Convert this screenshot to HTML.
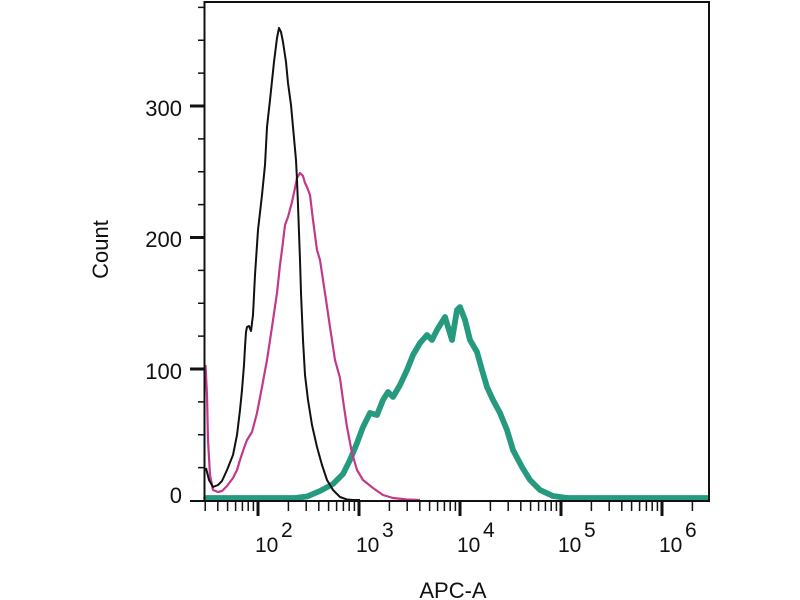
<!DOCTYPE html>
<html><head><meta charset="utf-8"><style>
html,body{margin:0;padding:0;background:#fff;}
svg{display:block;}
text{font-family:"Liberation Sans",Arial,sans-serif;fill:#111;}
</style></head><body>
<svg width="800" height="600" viewBox="0 0 800 600" xmlns="http://www.w3.org/2000/svg">
<rect width="800" height="600" fill="#fff"/>
<polyline fill="none" stroke="#269a7f" stroke-width="5.8" stroke-linejoin="round" stroke-linecap="round" points="206,498 295,498 307,496.5 320,491 333,484 343,474 350,460 357,443 363,427 370,413 377,415 383,400 388,392 393,397 400,385 407,370 413,355 420,343 427,335 432,340 437,330 445,317 452,340 457,310 460,307 465,320 470,340 477,352 482,370 487,387 493,400 500,413 507,430 513,450 522,467 530,480 540,490 553,496 567,498 707,498"/>
<polyline fill="none" stroke="#c2388a" stroke-width="2.2" stroke-linejoin="round" points="205.5,365 207,395 208,440 210,475 213,490 218,492 222,491 227,486 233,478 237,470 240,460 244,448 247,440 252,432 257,413 262,387 267,360 272,327 277,293 280,265 282,250 285,225 288,217 292,202 295,188 297,178 300,173 303,176 305,183 307,187 310,195 313,220 317,250 320,260 325,293 330,327 335,360 340,378 343,400 347,427 352,453 357,470 363,480 373,488 383,495 393,498 407,499.5 420,500"/>
<polyline fill="none" stroke="#111" stroke-width="2" stroke-linejoin="round" points="206,468 209,480 213,487 218,485 222,481 227,470 233,455 237,435 240,410 242,390 244,365 245,347 246,332 247,327 249,326 251,331 253,315 255,275 258,230 262,195 265,165 267,127 270,100 274,62 277,38 279,28 281,32 283,42 286,62 288,83 291,105 293,127 296,160 297,180 298,205 300,260 301,293 303,340 305,375 308,400 312,425 317,447 322,465 327,480 333,490 340,497 347,499.5 353,500 360,500"/>
<path fill="none" stroke="#111" stroke-width="2" d="M204.5 2V502M203.5 2H710M709 1V502M190 501H710"/>
<path fill="none" stroke="#111" stroke-width="3" d="M190 369h14M190 237.5h14M190 106h14M258 502v14M359 502v14M460 502v14M561 502v14M662 502v14"/>
<path fill="none" stroke="#111" stroke-width="1.5" d="M198 467.6h6M198 434.8h6M198 401.9h6M198 336.1h6M198 303.3h6M198 270.4h6M198 204.6h6M198 171.8h6M198 138.9h6M198 73.1h6M198 40.3h6M198 7.4h6
M205.2 502v9M217.8 502v9M227.6 502v9M235.6 502v9M242.4 502v9M248.2 502v9M253.4 502v9
M288.4 502v9M306.2 502v9M318.8 502v9M328.6 502v9M336.6 502v9M343.4 502v9M349.2 502v9M354.4 502v9
M389.4 502v9M407.2 502v9M419.8 502v9M429.6 502v9M437.6 502v9M444.4 502v9M450.2 502v9M455.4 502v9
M490.4 502v9M508.2 502v9M520.8 502v9M530.6 502v9M538.6 502v9M545.4 502v9M551.2 502v9M556.4 502v9
M591.4 502v9M609.2 502v9M621.8 502v9M631.6 502v9M639.6 502v9M646.4 502v9M652.2 502v9M657.4 502v9
M692.4 502v9"/>
<g font-size="22" text-anchor="end">
<text x="182" y="116">300</text>
<text x="182" y="247">200</text>
<text x="182" y="379">100</text>
<text x="182" y="503">0</text>
</g>
<g font-size="21">
<text x="255" y="552">10</text><text x="281" y="537">2</text>
<text x="356" y="552">10</text><text x="382" y="537">3</text>
<text x="457" y="552">10</text><text x="483" y="537">4</text>
<text x="558" y="552">10</text><text x="584" y="537">5</text>
<text x="659" y="552">10</text><text x="685" y="537">6</text>
</g>
<text x="453" y="598" font-size="22" text-anchor="middle">APC-A</text>
<text transform="translate(108,249.5) rotate(-90)" font-size="22" text-anchor="middle">Count</text>
</svg>
</body></html>
